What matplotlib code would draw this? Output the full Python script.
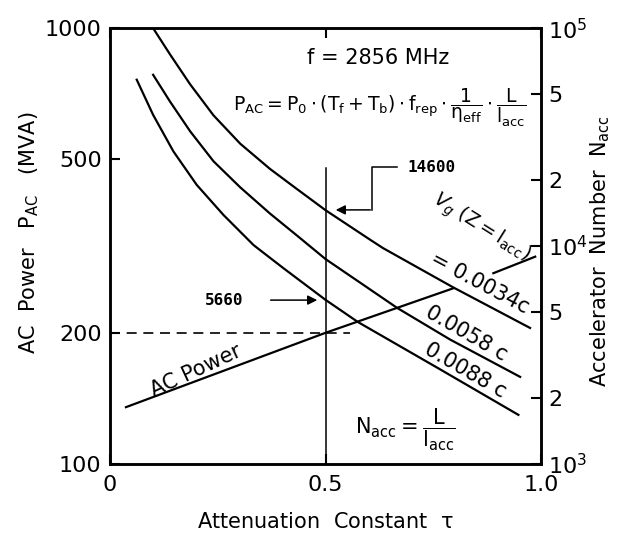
import numpy as np
import matplotlib
matplotlib.use("Agg")
import matplotlib.pyplot as plt

plt.rcParams['font.family'] = ['DejaVu Sans']
plt.rcParams['mathtext.fontset'] = 'dejavusans'
plt.rcParams['mathtext.default'] = 'regular'

# accelerator number curves (right axis)
tau_34 = [0.100, 0.139, 0.186, 0.240, 0.302, 0.371, 0.433, 0.500, 0.603, 0.633, 0.796, 0.974]
n_34 = [100000, 75900, 55200, 39800, 29500, 22600, 18300, 14600, 10700, 9790, 6460, 4210]

tau_58 = [0.100, 0.139, 0.186, 0.240, 0.302, 0.371, 0.433, 0.500, 0.666, 0.789, 0.951]
n_58 = [61100, 46100, 33600, 24500, 18600, 14100, 11200, 8710, 5200, 3720, 2510]

tau_88 = [0.062, 0.100, 0.147, 0.201, 0.263, 0.333, 0.402, 0.500, 0.575, 0.761, 0.947]
n_88 = [58000, 40000, 27200, 19100, 13900, 10100, 7920, 5660, 4480, 2750, 1680]

# AC power line (left axis), broken where the label crosses it
tau_ac = [0.037, 0.500, 0.796, np.nan, 0.889, 0.986]
p_ac = [135, 200, 253, np.nan, 274, 299]

# dashed 200 MVA level and the tau = 0.5 marker
dash_tau = [0.0, 0.557]
dash_p = [200, 200]
vline_tau = [0.5, 0.5]
vline_n = [1000, 22800]

right_ticks = [1e3, 2e3, 5e3, 1e4, 2e4, 5e4, 1e5]
right_labels = ['$10^3$', '2', '5', '$10^4$', '2', '5', '$10^5$']

fig = plt.figure(figsize=(6.25, 5.42), dpi=100)
ax = fig.add_axes([0.176, 0.144, 0.690, 0.804])
ax2 = ax.twinx()

ax.set_xlim(0, 1)
ax.set_yscale('log')
ax.set_ylim(100, 1000)
ax2.set_yscale('log')
ax2.set_ylim(1e3, 1e5)

lw = 1.6
ax2.plot(tau_34, n_34, color='black', lw=lw)
ax2.plot(tau_58, n_58, color='black', lw=lw)
ax2.plot(tau_88, n_88, color='black', lw=lw)
ax2.plot(vline_tau, vline_n, color='black', lw=1.1)
ax.plot(tau_ac, p_ac, color='black', lw=lw)
ax.plot(dash_tau, dash_p, color='black', lw=1.2, dashes=(6, 4))

# axes and ticks
for a in (ax, ax2):
    for s in a.spines.values():
        s.set_linewidth(1.8)
ax.set_xticks([0, 0.5, 1.0])
ax.set_xticklabels(['0', '0.5', '1.0'])
ax.set_yticks([100, 200, 500, 1000])
ax.set_yticklabels(['100', '200', '500', '1000'])
ax.yaxis.set_minor_locator(matplotlib.ticker.NullLocator())
ax.tick_params(axis='both', which='major', direction='in', length=7, width=1.5,
               labelsize=16, pad=6, top=True)
ax.tick_params(axis='x', pad=8)
ax2.set_yticks(right_ticks)
ax2.set_yticklabels(right_labels)
ax2.yaxis.set_minor_locator(matplotlib.ticker.NullLocator())
ax2.tick_params(axis='y', which='major', direction='in', length=7, width=1.5,
                labelsize=16, pad=5)

ax.set_xlabel('Attenuation  Constant  $\\tau$', fontsize=15, labelpad=12)
ax.set_ylabel('AC  Power   $P_{AC}$   (MVA)', fontsize=15)
ax.yaxis.set_label_coords(-0.16, 0.53)
ax2.set_ylabel('Accelerator  Number  $N_{acc}$', fontsize=15)
ax2.yaxis.set_label_coords(1.109, 0.489)

# annotations
t = ax.transAxes
ax.text(0.622, 0.931, 'f = 2856 MHz', transform=t, fontsize=15, ha='center', va='center')
ax.text(0.626, 0.817,
        r'$P_{AC}=P_0\cdot(T_f+T_b)\cdot f_{rep}\cdot\dfrac{1}{\eta_{eff}}\cdot\dfrac{L}{l_{acc}}$',
        transform=t, fontsize=13.5, ha='center', va='center')
ax.text(0.689, 0.681, '14600', transform=t, fontsize=11.5, fontweight='bold',
        family='DejaVu Sans Mono', ha='left', va='center')
ax.plot([0.666, 0.608, 0.608], [0.681, 0.681, 0.583], transform=t, color='black', lw=1.1)
ax.annotate('', xy=(0.517, 0.583), xytext=(0.610, 0.583), xycoords=t, textcoords=t,
            arrowprops=dict(arrowstyle='-|>', color='black', lw=1.1, mutation_scale=14))
ax.text(0.220, 0.376, '5660', transform=t, fontsize=11.5, fontweight='bold',
        family='DejaVu Sans Mono', ha='left', va='center')
ax.annotate('', xy=(0.487, 0.376), xytext=(0.366, 0.376), xycoords=t, textcoords=t,
            arrowprops=dict(arrowstyle='-|>', color='black', lw=1.1, mutation_scale=14))

ax.text(0.860, 0.542, r'$\mathit{V_g}\ (Z = l_{acc})$', transform=t, fontsize=14,
        rotation=-32, ha='center', va='center', rotation_mode='anchor')
ax.text(0.858, 0.415, '= 0.0034c', transform=t, fontsize=15,
        rotation=-28, ha='center', va='center', rotation_mode='anchor')
ax.text(0.826, 0.300, '0.0058 c', transform=t, fontsize=15,
        rotation=-30, ha='center', va='center', rotation_mode='anchor')
ax.text(0.824, 0.214, '0.0088 c', transform=t, fontsize=15,
        rotation=-30, ha='center', va='center', rotation_mode='anchor')
ax.text(0.200, 0.213, 'AC Power', transform=t, fontsize=15,
        rotation=25, ha='center', va='center', rotation_mode='anchor')
ax.text(0.684, 0.078, r'$N_{acc}=\dfrac{L}{l_{acc}}$', transform=t, fontsize=15,
        ha='center', va='center')

fig.savefig('out.png', dpi=100)
